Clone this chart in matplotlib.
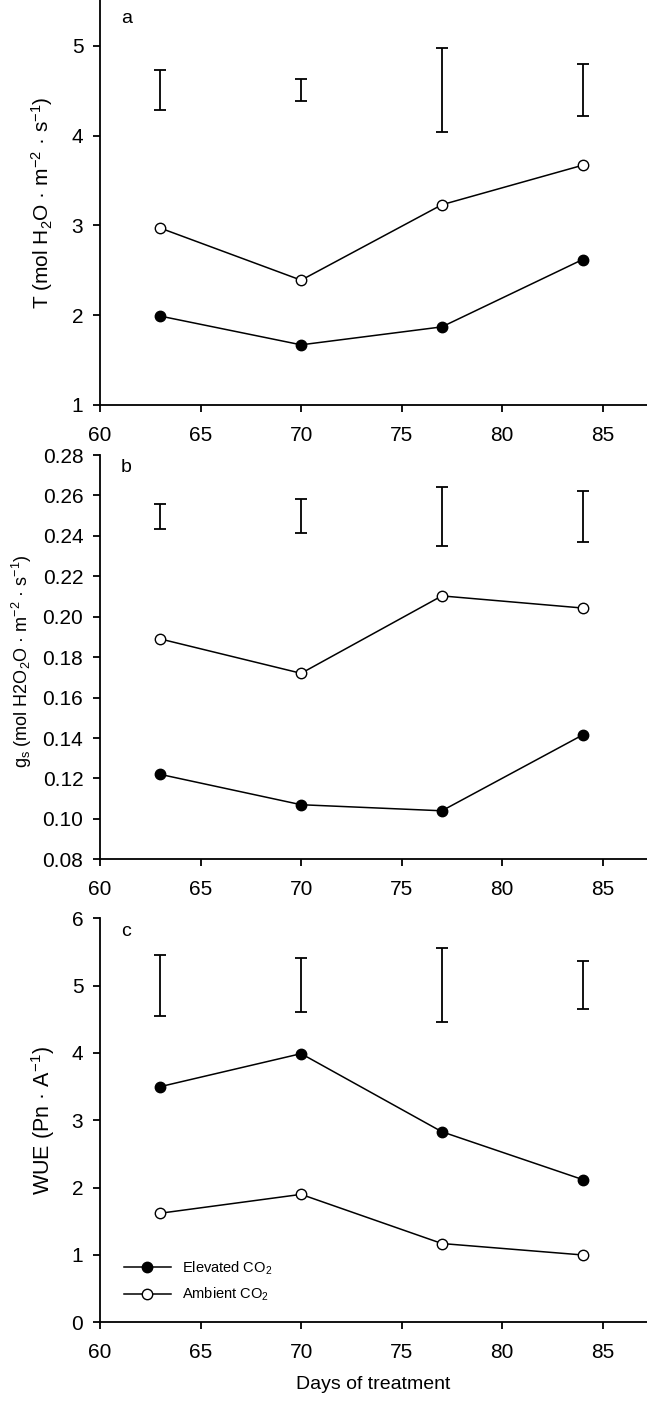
import matplotlib
matplotlib.use("Agg")
import matplotlib.pyplot as plt
from matplotlib.lines import Line2D

plt.rcParams['font.family'] = ['Liberation Sans', 'DejaVu Sans']
plt.rcParams['mathtext.fontset'] = 'custom'
plt.rcParams['mathtext.rm'] = 'Liberation Sans'
plt.rcParams['mathtext.it'] = 'Liberation Sans'

days = [63, 70, 77, 84]

# Panel a: transpiration
t_elev = [1.99, 1.67, 1.87, 2.62]
t_amb = [2.97, 2.39, 3.23, 3.67]
t_bar_lo = [4.29, 4.38, 4.04, 4.22]
t_bar_hi = [4.73, 4.63, 4.97, 4.80]

# Panel b: stomatal conductance
g_elev = [0.122, 0.107, 0.104, 0.1415]
g_amb = [0.189, 0.172, 0.2103, 0.2043]
g_bar_lo = [0.2434, 0.2414, 0.2348, 0.2371]
g_bar_hi = [0.2559, 0.2584, 0.2642, 0.2620]

# Panel c: water use efficiency
w_elev = [3.50, 3.99, 2.83, 2.12]
w_amb = [1.62, 1.90, 1.17, 1.00]
w_bar_lo = [4.55, 4.61, 4.46, 4.66]
w_bar_hi = [5.45, 5.41, 5.56, 5.37]

xticks = [60, 65, 70, 75, 80, 85]
yticks_a = [1, 2, 3, 4, 5]
yticks_b = [0.08, 0.10, 0.12, 0.14, 0.16, 0.18, 0.20, 0.22, 0.24, 0.26, 0.28]
yticks_c = [0, 1, 2, 3, 4, 5, 6]

W, H = 647, 1404
fig = plt.figure(figsize=(W / 100, H / 100), dpi=100)

def box(l, t, r, b):
    return [l / W, 1 - b / H, (r - l) / W, (b - t) / H]

ax_a = fig.add_axes(box(100, 0, 647, 405))
ax_b = fig.add_axes(box(100, 455, 647, 859.3))
ax_c = fig.add_axes(box(100, 918.3, 647, 1322.3))

panels = [
    (ax_a, t_elev, t_amb, t_bar_lo, t_bar_hi, (1, 5.51), yticks_a, 'a',
     'T (mol H$_2$O · m$^{-2}$ · s$^{-1}$)', 15, (-0.083, 0.5), 0.955, lambda v: f'{v:g}'),
    (ax_b, g_elev, g_amb, g_bar_lo, g_bar_hi, (0.08, 0.28), yticks_b, 'b',
     'g$_s$ (mol H2O$_2$O · m$^{-2}$ · s$^{-1}$)', 13, (-0.121, 0.49), 0.970, lambda v: f'{v:.2f}'),
    (ax_c, w_elev, w_amb, w_bar_lo, w_bar_hi, (0, 6), yticks_c, 'c',
     'WUE (Pn · A$^{-1}$)', 15.5, (-0.079, 0.5), 0.968, lambda v: f'{v:g}'),
]

for ax, elev, amb, lo, hi, ylim, yt, lab, ylab, yfs, ycoords, ly, fmt in panels:
    for s in ['top', 'right']:
        ax.spines[s].set_visible(False)
    for s in ['left', 'bottom']:
        ax.spines[s].set_linewidth(1.3)
    ax.set_xlim(60, 87.2)
    ax.set_ylim(*ylim)
    ax.set_xticks(xticks)
    ax.set_yticks(yt)
    ax.set_yticklabels([fmt(v) for v in yt])
    ax.tick_params(axis='both', direction='out', length=5, width=1.3, labelsize=15)
    ax.tick_params(axis='x', pad=10)
    ax.tick_params(axis='y', pad=7)
    centers = [(a + b) / 2 for a, b in zip(lo, hi)]
    halves = [(b - a) / 2 for a, b in zip(lo, hi)]
    ax.errorbar(days, centers, yerr=halves, fmt='none', ecolor='black',
                elinewidth=1.3, capsize=4.3, capthick=1.3)
    ax.plot(days, elev, '-o', color='black', lw=1.1, ms=7.5,
            mfc='black', mec='black', mew=1.0, zorder=3)
    ax.plot(days, amb, '-o', color='black', lw=1.1, ms=7.5,
            mfc='white', mec='black', mew=1.0, zorder=3)
    ax.text(0.048, ly, lab, transform=ax.transAxes, fontsize=14,
            ha='center', va='center')
    ax.set_ylabel(ylab, fontsize=yfs)
    ax.yaxis.set_label_coords(*ycoords)

handles = [
    Line2D([], [], color='black', lw=1.1, marker='o', ms=7.5, mfc='black', mec='black'),
    Line2D([], [], color='black', lw=1.1, marker='o', ms=7.5, mfc='white', mec='black'),
]
ax_c.legend(handles, ['Elevated CO$_2$', 'Ambient CO$_2$'], loc='lower left',
            bbox_to_anchor=(0.02, 0.015), frameon=False, fontsize=10.5,
            handlelength=3.2, labelspacing=0.6, handletextpad=0.8)

ax_c.set_xlabel('Days of treatment', fontsize=14, labelpad=10)

fig.savefig('out.png', dpi=100)
